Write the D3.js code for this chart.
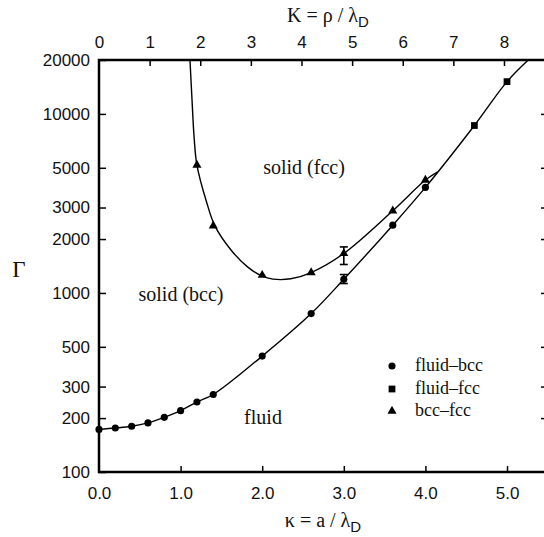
<!DOCTYPE html>
<html><head><meta charset="utf-8">
<script src="https://cdn.jsdelivr.net/npm/d3@7/dist/d3.min.js"></script>
<style>body{margin:0;background:#fff}svg{display:block}</style>
</head><body>
<script>
// ---- data ----
const fluidBccK = [0, 0.2, 0.4, 0.6, 0.8, 1.0, 1.2, 1.4, 2.0, 2.6, 3.0, 3.6, 4.0];
const fluidBccG = [173, 176, 180, 188, 202, 220, 246, 271, 444, 767, 1193, 2391, 3886];
const fluidFccK = [4.6, 5.0];
const fluidFccG = [8614, 15140];
const bccFccK = [1.2, 1.4, 2.0, 2.6, 3.0, 3.6, 4.0];
const bccFccG = [5180, 2370, 1256, 1300, 1661, 2878, 4270];
const errK = [3.0, 3.0];
const errLow = [1442, 1129];
const errHigh = [1808, 1267];
// fitted boundary curves (nodes)
const fluidCurveK = [0, 0.2, 0.4, 0.6, 0.8, 1.0, 1.2, 1.4, 2.0, 2.6, 3.0, 3.6, 4.0, 4.6, 5.0, 5.26];
const fluidCurveG = [173, 176, 180, 188, 202, 220, 246, 271, 444, 767, 1193, 2391, 3886, 8614, 15140, 20000];
const bccCurveK = [1.115, 1.14, 1.165, 1.2, 1.32, 1.42, 1.62, 1.82, 2.0, 2.13, 2.35, 2.6, 3.0, 3.6, 4.0, 4.15];
const bccCurveG = [20000, 11970, 7456, 5180, 3200, 2370, 1733, 1398, 1240, 1195, 1200, 1300, 1661, 2878, 4270, 4745];
const yTicks = [20000, 10000, 5000, 3000, 2000, 1000, 500, 300, 200, 100];
const xTicks = [0, 1, 2, 3, 4, 5];
const topTicks = [0, 1, 2, 3, 4, 5, 6, 7, 8];
const legendLabels = ["fluid\u2013bcc", "fluid\u2013fcc", "bcc\u2013fcc"];
const regionLabels = ["solid (fcc)", "solid (bcc)", "fluid"];

const W = 544, H = 537;
const L = 99, R = 547, T = 60, B = 472;
const svg = d3.select("body").append("svg").attr("width", W).attr("height", H);

const x = d3.scaleLinear().domain([0, 5.49]).range([L, R]);
const xTop = d3.scaleLinear().domain([0, 5.49 * 1.612]).range([L, R]);
const y = d3.scaleLog().domain([100, 20000]).range([B, T]);

const sans = "'Liberation Sans', Arial, sans-serif";
const serif = "'Liberation Serif', 'Times New Roman', serif";

// axes
const gl = svg.append("g").attr("transform", `translate(${L},0)`)
  .call(d3.axisLeft(y).tickValues(yTicks).tickFormat(d3.format("d")).tickSize(-7).tickPadding(9));
const gb = svg.append("g").attr("transform", `translate(0,${B})`)
  .call(d3.axisBottom(x).tickValues(xTicks).tickFormat(d3.format(".1f")).tickSize(-6).tickPadding(15));
const gt = svg.append("g").attr("transform", `translate(0,${T})`)
  .call(d3.axisTop(xTop).tickValues(topTicks).tickFormat(d3.format("d")).tickSize(-6).tickPadding(12));
const gr = svg.append("g").attr("transform", `translate(${R},0)`)
  .call(d3.axisRight(y).tickValues(yTicks.slice(1, -1)).tickFormat("").tickSize(-6));
[gl, gb, gt, gr].forEach(g => {
  g.select(".domain").remove();
  g.selectAll(".tick line").attr("stroke", "#000").attr("stroke-width", 1.5);
  g.selectAll("text").attr("font-family", sans).attr("font-size", 17).attr("fill", "#111");
});
gb.selectAll(".tick").filter(d => d === 0).select("line").remove();
gt.selectAll(".tick").filter(d => d === 0).select("line").remove();

// frame
svg.append("path").attr("d", `M${L},${T}H${R}V${B}H${L}Z`)
  .attr("fill", "none").attr("stroke", "#000").attr("stroke-width", 2.5);

// curves
const line = d3.line().x(d => x(d[0])).y(d => y(d[1])).curve(d3.curveCatmullRom.alpha(0.5));
svg.append("path").datum(d3.zip(fluidCurveK, fluidCurveG)).attr("d", line)
  .attr("fill", "none").attr("stroke", "#000").attr("stroke-width", 1.4);
svg.append("path").datum(d3.zip(bccCurveK, bccCurveG)).attr("d", line)
  .attr("fill", "none").attr("stroke", "#000").attr("stroke-width", 1.4);

// error bars
errK.forEach((k, i) => {
  const g = svg.append("g").attr("stroke", "#000").attr("stroke-width", 1.6);
  g.append("line").attr("x1", x(k)).attr("x2", x(k)).attr("y1", y(errLow[i])).attr("y2", y(errHigh[i]));
  [errLow[i], errHigh[i]].forEach(v => g.append("line")
    .attr("x1", x(k) - 4).attr("x2", x(k) + 4).attr("y1", y(v)).attr("y2", y(v)));
});

// markers
const sym = {
  circle: d3.symbol().type(d3.symbolCircle).size(40),
  square: d3.symbol().type(d3.symbolSquare).size(46),
  tri: d3.symbol().type(d3.symbolTriangle).size(36)
};
function pts(K, G, s) {
  svg.append("g").selectAll("path").data(d3.zip(K, G)).join("path")
    .attr("d", sym[s]).attr("fill", "#000")
    .attr("transform", d => `translate(${x(d[0])},${y(d[1])})`);
}
pts(fluidBccK, fluidBccG, "circle");
pts(fluidFccK, fluidFccG, "square");
pts(bccFccK, bccFccG, "tri");

// legend
const legSyms = ["circle", "square", "tri"];
const legY = [366, 389, 411];
legendLabels.forEach((t, i) => {
  svg.append("path").attr("d", sym[legSyms[i]]).attr("fill", "#000")
    .attr("transform", `translate(392,${legY[i]})`);
  svg.append("text").attr("x", 415).attr("y", legY[i] + 5).text(t)
    .attr("font-family", serif).attr("font-size", 18).attr("fill", "#111");
});

// region labels
const regPos = [[304, 174], [181, 301], [263, 424]];
regionLabels.forEach((t, i) => {
  svg.append("text").attr("x", regPos[i][0]).attr("y", regPos[i][1]).attr("text-anchor", "middle")
    .text(t).attr("font-family", serif).attr("font-size", 20).attr("fill", "#111");
});

// axis titles
function title(xp, yp, main) {
  const t = svg.append("text").attr("x", xp).attr("y", yp).attr("text-anchor", "middle")
    .attr("font-family", serif).attr("font-size", 20).attr("fill", "#111");
  t.append("tspan").text(main);
  t.append("tspan").text("D").attr("font-family", sans).attr("font-size", 15).attr("dy", 5);
}
title(328, 22, "K = \u03c1 / \u03bb");
title(323, 527, "\u03ba = a / \u03bb");
svg.append("text").attr("x", 19).attr("y", 277).attr("text-anchor", "middle")
  .text("\u0393").attr("font-family", serif).attr("font-size", 23).attr("fill", "#111");
</script>
</body></html>
